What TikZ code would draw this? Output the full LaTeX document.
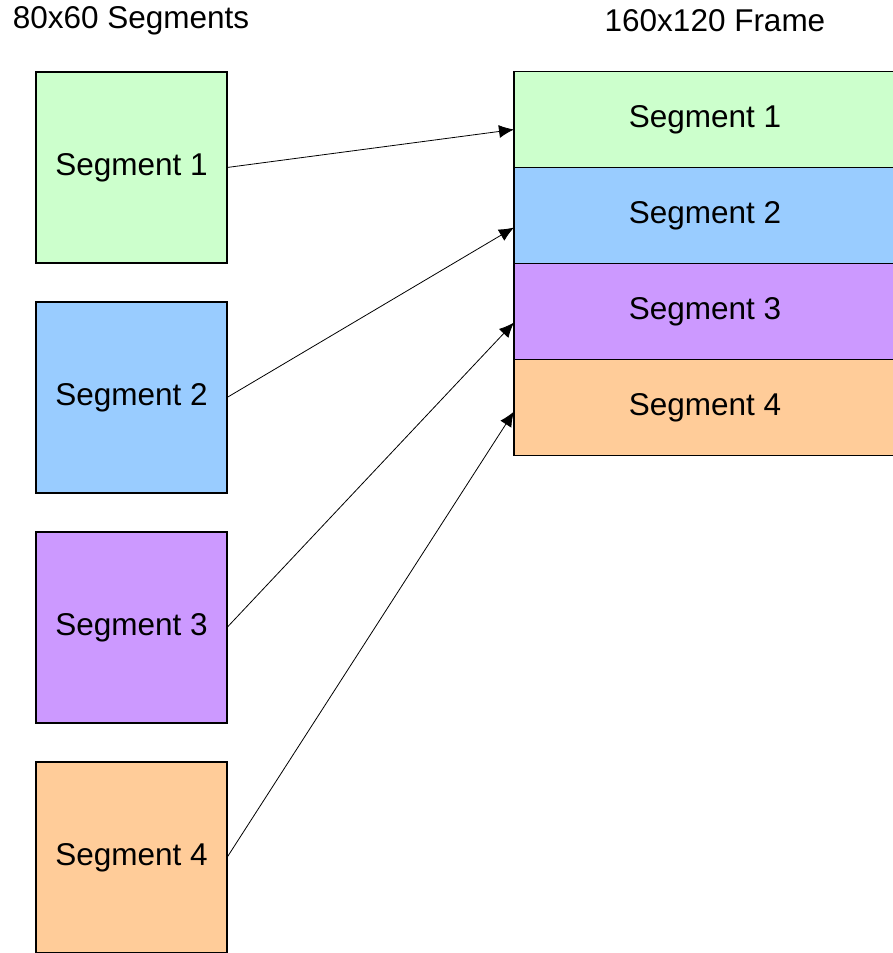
\documentclass[tikz,border=0pt]{standalone}
\usepackage{fontspec}
\setmainfont{Liberation Sans}
\usepackage{tikz}
\usetikzlibrary{arrows.meta, positioning}
\definecolor{seggreen}{RGB}{204,255,204}
\definecolor{segblue}{RGB}{153,204,255}
\definecolor{segpurple}{RGB}{204,153,255}
\definecolor{segorange}{RGB}{255,204,153}
\tikzset{
  segbox/.style={rectangle, draw=black, line width=1.5pt, outer sep=0pt,
    minimum width=191pt, minimum height=191pt, inner sep=0pt,
    font=\fontsize{31.5}{37}\selectfont},
  framebox/.style={rectangle, draw=black, line width=1.5pt, outer sep=0pt,
    minimum width=382pt, minimum height=96pt, inner sep=0pt,
    font=\fontsize{31.5}{37}\selectfont},
  title/.style={font=\fontsize{31.5}{37}\selectfont, inner sep=0pt},
  arrow/.style={-{Latex[length=15pt,width=13pt]}, line width=0.8pt, color=black}
}

\begin{document}
\begin{tikzpicture}[x=1pt, y=-1pt, node distance=39pt]
  \clip (0,0) rectangle (893,953);
  \fill[white] (0,0) rectangle (893,953);

  \node[title] (lefttitle) at (131,21) {80x60 Segments};
  \node[title] (righttitle) at (715,21) {160x120 Frame};

  % 80x60 segments
  \node[segbox, fill=seggreen] (seg1) at (131.5,167.5) {Segment 1};
  \node[segbox, fill=segblue, below=of seg1] (seg2) {Segment 2};
  \node[segbox, fill=segpurple, below=of seg2] (seg3) {Segment 3};
  \node[segbox, fill=segorange, below=of seg3] (seg4) {Segment 4};

  % 160x120 frame
  \node[framebox, fill=seggreen] (fseg1) at (705,119.5) {Segment 1};
  \node[framebox, fill=segblue, below=0pt of fseg1] (fseg2) {Segment 2};
  \node[framebox, fill=segpurple, below=0pt of fseg2] (fseg3) {Segment 3};
  \node[framebox, fill=segorange, below=0pt of fseg3] (fseg4) {Segment 4};

  \draw[arrow] (seg1.east) -- ([yshift=-10pt]fseg1.west);
  \draw[arrow] (seg2.east) -- ([yshift=-12pt]fseg2.west);
  \draw[arrow] (seg3.east) -- ([yshift=-11pt]fseg3.west);
  \draw[arrow] (seg4.east) -- ([yshift=-4pt]fseg4.west);
\end{tikzpicture}
\end{document}
